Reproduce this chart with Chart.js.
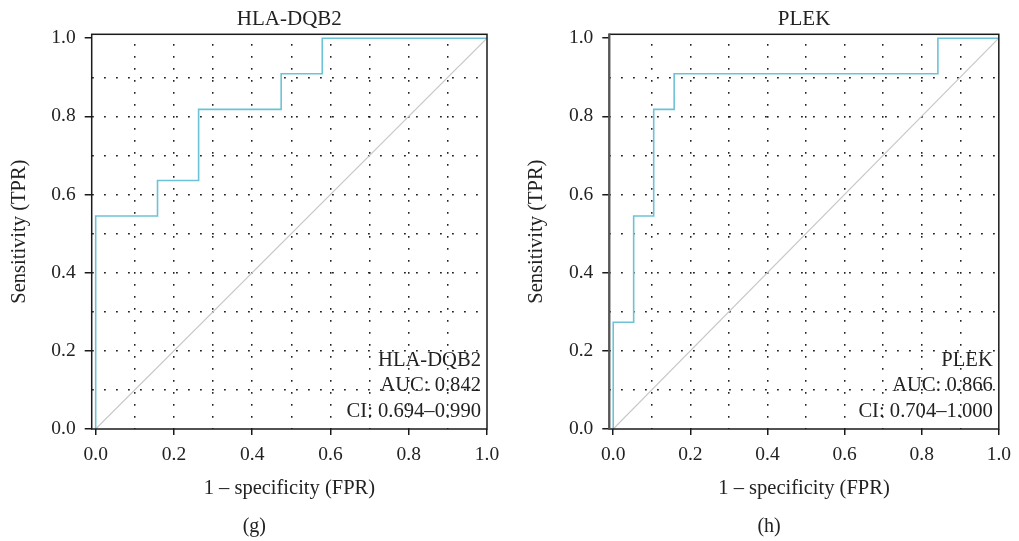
<!DOCTYPE html>
<html>
<head>
<meta charset="utf-8">
<script src="https://cdn.jsdelivr.net/npm/chart.js@4/dist/chart.umd.min.js"></script>
<style>
  body { margin: 0; background: #fff; }
  .panel { position: absolute; top: 0; height: 541px; }
  #panelG { left: 0; width: 509px; }
  #panelH { left: 510px; width: 509px; }
</style>
</head>
<body>
<div class="panel" id="panelG"><canvas id="rocG"></canvas></div>
<div class="panel" id="panelH"><canvas id="rocH"></canvas></div>
<script>
// grid steps shared by both axes (labels on every other one)
const gridSteps = [0.0, 0.1, 0.2, 0.3, 0.4, 0.5, 0.6, 0.7, 0.8, 0.9, 1.0];

// HLA-DQB2 ROC points
const hlaFpr = [0, 0, 0.158, 0.158, 0.263, 0.263, 0.474, 0.474, 0.579, 0.579, 1.0];
const hlaTpr = [0, 0.545, 0.545, 0.636, 0.636, 0.818, 0.818, 0.909, 0.909, 1.0, 1.0];

// PLEK ROC points
const plekFpr = [0, 0, 0.053, 0.053, 0.105, 0.105, 0.158, 0.158, 0.842, 0.842, 1.0];
const plekTpr = [0, 0.273, 0.273, 0.545, 0.545, 0.818, 0.818, 0.909, 0.909, 1.0, 1.0];

const diagonal = [0, 1];

const SERIF = '"Liberation Serif", "DejaVu Serif", serif';
const TEXT = '#222';
const LINE_BLUE = '#6cc3d6';

const isMajor = v => Math.round(v * 10) % 2 === 0;
const isEdge = v => Math.abs(v) < 1e-6 || Math.abs(v - 1) < 1e-6;

// frame, panel title, AUC box and caption
const panelText = {
  id: 'panelText',
  afterDraw(chart, args, opts) {
    const { ctx, chartArea: a } = chart;
    ctx.save();
    ctx.lineWidth = 1.5;
    ctx.strokeStyle = '#1a1a1a';
    ctx.strokeRect(a.left, a.top, a.right - a.left, a.bottom - a.top);
    if (opts.leftEdge) {
      ctx.lineWidth = 2.2;
      ctx.strokeStyle = opts.leftEdge;
      ctx.beginPath();
      ctx.moveTo(a.left, a.top - 0.7);
      ctx.lineTo(a.left, a.bottom + 0.7);
      ctx.stroke();
    }
    const cx = (a.left + a.right) / 2;
    ctx.fillStyle = TEXT;
    ctx.textBaseline = 'alphabetic';
    ctx.textAlign = 'center';
    ctx.font = '21px ' + SERIF;
    ctx.fillText(opts.title, cx, 25);
    ctx.font = '20px ' + SERIF;
    ctx.fillText(opts.caption, cx - 35, 532);
    ctx.textAlign = 'right';
    ctx.font = '20.6px ' + SERIF;
    opts.legend.forEach((line, i) => {
      ctx.fillText(line, a.right - 6, a.bottom - 63 + i * 25.3);
    });
    ctx.restore();
  }
};

function axisBase(fixedSize, isX) {
  return {
    type: 'linear',
    min: isX ? -0.0102 : 0,
    max: isX ? 1.0 : 1.01,
    afterBuildTicks: scale => { scale.ticks = gridSteps.map(v => ({ value: v })); },
    afterFit: scale => {
      if (isX) scale.height = fixedSize; else scale.width = fixedSize;
    },
    border: { display: false, dash: [1.8, 10.2], dashOffset: isX ? 2.3 : 0 },
    grid: {
      lineWidth: 1.5,
      color: c => (c.tick && !isEdge(c.tick.value) ? '#222' : 'rgba(0,0,0,0)'),
      tickColor: c => (c.tick && isMajor(c.tick.value) ? '#1a1a1a' : 'rgba(0,0,0,0)'),
      tickWidth: 1.5,
      tickLength: isX ? 6 : 7
    },
    ticks: {
      autoSkip: false,
      maxRotation: 0,
      padding: isX ? 8 : 9,
      color: TEXT,
      font: { family: SERIF, size: 19.5 },
      callback: v => (isMajor(v) ? v.toFixed(1) : '')
    }
  };
}

function makeRoc(canvasId, fpr, tpr, cfg) {
  const rocPoints = fpr.map((x, i) => ({ x: x, y: tpr[i] }));
  const diagPoints = diagonal.map(v => ({ x: v, y: v }));
  const xAxis = axisBase(76, true);
  xAxis.title = {
    display: true, text: '1 – specificity (FPR)', color: TEXT,
    font: { family: SERIF, size: 20.5 }, padding: { top: 0, bottom: 3.8 }
  };
  const yAxis = axisBase(cfg.yWidth, false);
  yAxis.title = {
    display: true, text: 'Sensitivity (TPR)', color: TEXT,
    font: { family: SERIF, size: 20.5 }, padding: { top: cfg.yTitlePad, bottom: 0 }
  };
  return new Chart(document.getElementById(canvasId), {
    type: 'scatter',
    data: {
      datasets: [
        {
          data: rocPoints, showLine: true, borderColor: LINE_BLUE, borderWidth: 1.6,
          pointRadius: 0, tension: 0, order: 1
        },
        {
          data: diagPoints, showLine: true, borderColor: '#c8c8c8', borderWidth: 1.2,
          pointRadius: 0, tension: 0, order: 2
        }
      ]
    },
    options: {
      responsive: true,
      maintainAspectRatio: false,
      animation: false,
      layout: { padding: { top: 34.3, right: cfg.rightPad, bottom: 36, left: 0 } },
      scales: { x: xAxis, y: yAxis },
      plugins: {
        legend: { display: false },
        tooltip: { enabled: false },
        panelText: cfg.text
      }
    },
    plugins: [panelText]
  });
}

makeRoc('rocG', hlaFpr, hlaTpr, {
  yWidth: 91.7, yTitlePad: 7.8, rightPad: 22,
  text: { title: 'HLA-DQB2', caption: '(g)', legend: ['HLA-DQB2', 'AUC: 0.842', 'CI: 0.694–0.990'] }
});

makeRoc('rocH', plekFpr, plekTpr, {
  yWidth: 99.3, yTitlePad: 14.7, rightPad: 14.5,
  text: { title: 'PLEK', caption: '(h)', legend: ['PLEK', 'AUC: 0.866', 'CI: 0.704–1.000'], leftEdge: '#555' }
});
</script>
</body>
</html>
